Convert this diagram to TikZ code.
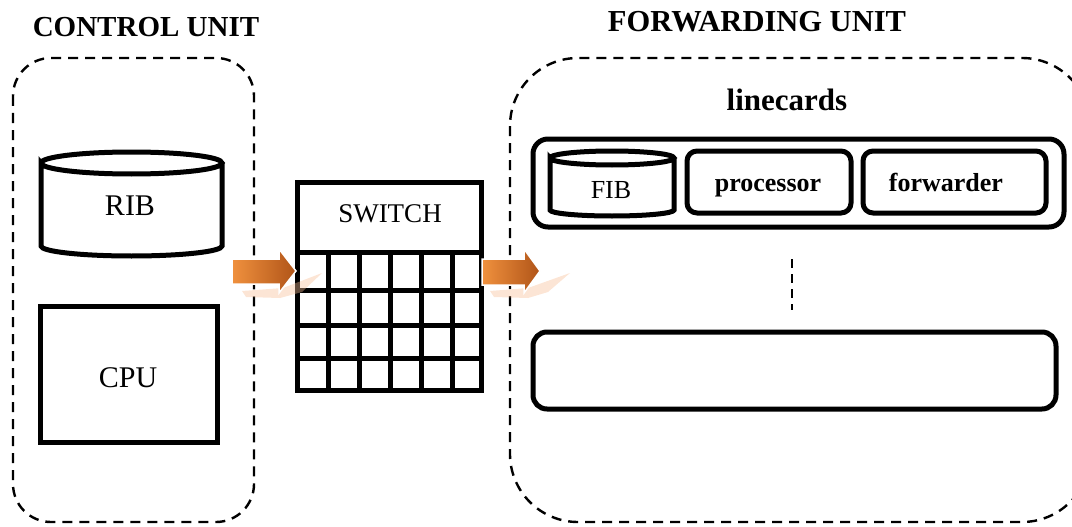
\documentclass[tikz,border=0pt]{standalone}
\usepackage{fontspec}
\setmainfont{Liberation Serif}
\usetikzlibrary{shapes.geometric}
\definecolor{arrowlight}{RGB}{240,145,62}
\definecolor{arrowdark}{RGB}{176,84,24}
\definecolor{glow}{RGB}{248,190,150}
\tikzset{
  unitframe/.style={draw, line width=2.4pt, dash pattern=on 10pt off 7pt},
  solidbox/.style={draw, line width=5pt},
  cardbox/.style={draw, line width=5pt, rounded corners=14pt},
  title/.style={font=\fontsize{29}{31}\selectfont\bfseries, inner sep=0pt},
  label/.style={font=\fontsize{30}{32}\selectfont, inner sep=0pt},
  smalllabel/.style={font=\fontsize{26}{28}\selectfont, inner sep=0pt, anchor=base},
  smallbold/.style={font=\fontsize{26}{28}\selectfont\bfseries, inner sep=0pt, anchor=base},
  flow/.style={shading=axis, shading angle=60, left color=arrowlight, right color=arrowdark,
    draw=white, line width=1.5pt},
  flowshadow/.style={fill=glow, opacity=0.4}
}
\begin{document}
\begin{tikzpicture}[x=1pt,y=-1pt]
\useasboundingbox (0,0) rectangle (1072,527);
\clip (0,0) rectangle (1072,527);

% unit titles
\node[title] (ctltitle) at (146,27) {CONTROL UNIT};
\node[title, font=\fontsize{30.5}{32}\selectfont\bfseries] (fwdtitle) at (757,22) {FORWARDING UNIT};

% dashed unit frames
\draw[unitframe, rounded corners=38pt] (13,58) rectangle (254,522);
\draw[unitframe, rounded corners=68pt] (510,58) rectangle (1090,522);

% RIB cylinder
\draw[line width=5pt] (41,163) arc[start angle=180, end angle=360, x radius=90.5, y radius=11]
  arc[start angle=0, end angle=180, x radius=90.5, y radius=11] -- (41,246)
  arc[start angle=180, end angle=0, x radius=90.5, y radius=10] -- (222,163);
\node[label] (rib) at (130,206) {RIB};

% CPU box
\draw[solidbox] (40,306) rectangle (217,442);
\node[label] (cpu) at (128,378) {CPU};

% switch: header above a 6x4 grid of ports
\draw[solidbox] (297,182) rectangle (481,390);
\draw[line width=5pt] (297,252) -- (481,252);
\foreach \yy in {290,325,358} \draw[line width=5pt] (297,\yy) -- (481,\yy);
\foreach \xx in {328,359,390,421,452} \draw[line width=5pt] (\xx,252) -- (\xx,390);
\node[font=\fontsize{27}{29}\selectfont, inner sep=0pt] (switch) at (390,214) {SWITCH};

% flow arrows into and out of the switch, with faint reflections
\fill[flowshadow] (242,291) -- (283,288) -- (322,273) -- (302,292) -- (280,298) -- (246,297) -- cycle;
\draw[flow] (232,259) -- (279,259) -- (279,249) -- (296,271) -- (279,293) -- (279,284) -- (232,284) -- cycle;
\fill[flowshadow] (490,291) -- (528,288) -- (570,273) -- (548,292) -- (528,298) -- (494,297) -- cycle;
\draw[flow] (482,259) -- (524,259) -- (524,249) -- (540,271) -- (524,293) -- (524,285) -- (482,285) -- cycle;

% forwarding unit contents
\node[font=\fontsize{31}{33}\selectfont\bfseries, inner sep=0pt] (linecards) at (787,100) {linecards};
\draw[cardbox, rounded corners=15pt] (533,139) rectangle (1064,227);

% FIB cylinder
\draw[line width=5pt] (550,158) arc[start angle=180, end angle=360, x radius=62, y radius=7]
  arc[start angle=0, end angle=180, x radius=62, y radius=7] -- (550,210)
  arc[start angle=180, end angle=0, x radius=62, y radius=6] -- (674,158);
\node[smalllabel] (fib) at (611,198) {FIB};

\draw[cardbox, rounded corners=10pt] (687,151) rectangle (851,213);
\node[smallbold] (proc) at (768,191) {processor};
\draw[cardbox, rounded corners=10pt] (863,151) rectangle (1046,213);
\node[smallbold] (fwd) at (946,191) {forwarder};

% further linecards
\draw[line width=2.4pt, dash pattern=on 9pt off 6pt] (792,259) -- (792,310);
\draw[cardbox, rounded corners=14pt] (533,332) rectangle (1056,409);
\end{tikzpicture}
\end{document}
